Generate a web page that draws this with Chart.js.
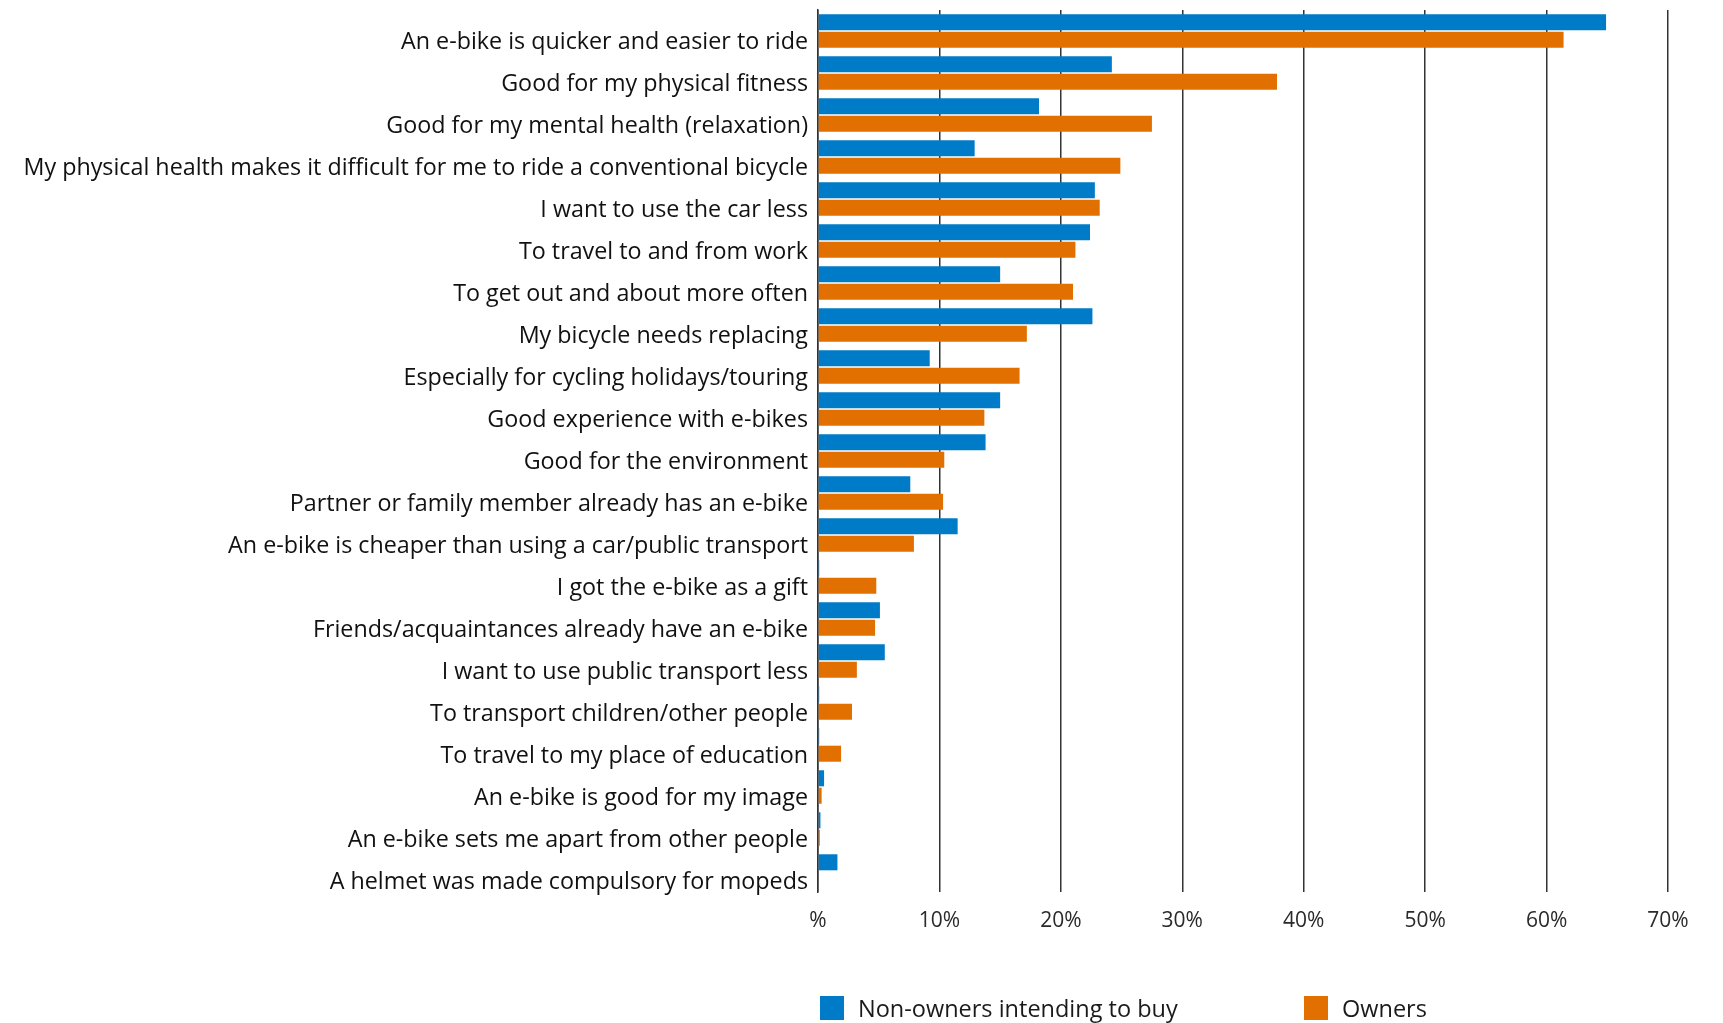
<!DOCTYPE html>
<html>
<head>
<meta charset="utf-8">
<script src="https://cdn.jsdelivr.net/npm/chart.js@4/dist/chart.umd.min.js"></script>
<style>
html,body{margin:0;padding:0;background:#fff;}
#wrap{position:relative;width:1723px;height:1023px;overflow:hidden;}
#chart{position:absolute;left:0;top:0;}
#legend{position:absolute;top:992px;left:0;font-family:"Open Sans",sans-serif;font-size:23.5px;color:#1a1a1a;}
.li{position:absolute;white-space:nowrap;display:flex;align-items:center;}
.li span.sw{display:inline-block;width:24px;height:24px;margin-right:14px;}
</style>
</head>
<body>
<div id="wrap">
  <canvas id="chart" width="1723" height="1023"></canvas>
  <div id="legend"></div>
</div>
<script>
const categories = [
  'An e-bike is quicker and easier to ride',
  'Good for my physical fitness',
  'Good for my mental health (relaxation)',
  'My physical health makes it difficult for me to ride a conventional bicycle',
  'I want to use the car less',
  'To travel to and from work',
  'To get out and about more often',
  'My bicycle needs replacing',
  'Especially for cycling holidays/touring',
  'Good experience with e-bikes',
  'Good for the environment',
  'Partner or family member already has an e-bike',
  'An e-bike is cheaper than using a car/public transport',
  'I got the e-bike as a gift',
  'Friends/acquaintances already have an e-bike',
  'I want to use public transport less',
  'To transport children/other people',
  'To travel to my place of education',
  'An e-bike is good for my image',
  'An e-bike sets me apart from other people',
  'A helmet was made compulsory for mopeds'
];
const nonOwners = [64.9, 24.2, 18.2, 12.9, 22.8, 22.4, 15.0, 22.6, 9.2, 15.0, 13.8, 7.6, 11.5, 0.1, 5.1, 5.5, 0.1, 0.1, 0.5, 0.2, 1.6];
const owners    = [61.4, 37.8, 27.5, 24.9, 23.2, 21.2, 21.0, 17.2, 16.6, 13.7, 10.4, 10.3, 7.9, 4.8, 4.7, 3.2, 2.8, 1.9, 0.3, 0.15, 0];
const seriesNames = ['Non-owners intending to buy', 'Owners'];
const seriesColors = ['#007bc7', '#e17000'];
const xMax = 70;
const xStep = 10;

const ink = '#111111', gridCol = '#333333';
const font = '"Open Sans", sans-serif';

const chart = new Chart(document.getElementById('chart'), {
  type: 'bar',
  data: {
    labels: categories,
    datasets: [
      {label: seriesNames[0], data: nonOwners, backgroundColor: seriesColors[0], borderWidth: 0,
       categoryPercentage: .83, barPercentage: .92},
      {label: seriesNames[1], data: owners, backgroundColor: seriesColors[1], borderWidth: 0,
       categoryPercentage: .83, barPercentage: .92}
    ]
  },
  options: {
    indexAxis: 'y',
    responsive: false,
    animation: false,
    layout: {padding: {top: 10, right: 55, bottom: 0, left: 0}},
    plugins: {legend: {display: false}, tooltip: {enabled: false}},
    scales: {
      x: {
        min: 0, max: xMax,
        ticks: {stepSize: xStep, color: '#2a2a2a', padding: 16,
          font: {family: font, size: 21},
          callback: v => v === 0 ? '%' : v + '%'},
        grid: {color: gridCol, lineWidth: 1.5, drawTicks: false},
        border: {display: false},
        afterFit: s => { s.height = 131; s.paddingLeft = 0; s.paddingRight = 0; }
      },
      y: {
        ticks: {color: ink, padding: 10, labelOffset: 11.5, autoSkip: false,
          font: {family: font, size: 23.3}},
        grid: {display: false, drawTicks: false},
        border: {display: true, color: gridCol, width: 1.5},
        afterFit: s => { s.width = 818; s.paddingTop = 0; s.paddingBottom = 0; }
      }
    }
  }
});

// legend drawn as html under the plot
const legendPos = [820, 1304];
const lg = document.getElementById('legend');
seriesNames.forEach((n, i) => {
  const d = document.createElement('div');
  d.className = 'li';
  d.style.left = legendPos[i] + 'px';
  d.innerHTML = `<span class="sw" style="background:${seriesColors[i]}"></span>${n}`;
  lg.appendChild(d);
});
</script>
</body>
</html>
